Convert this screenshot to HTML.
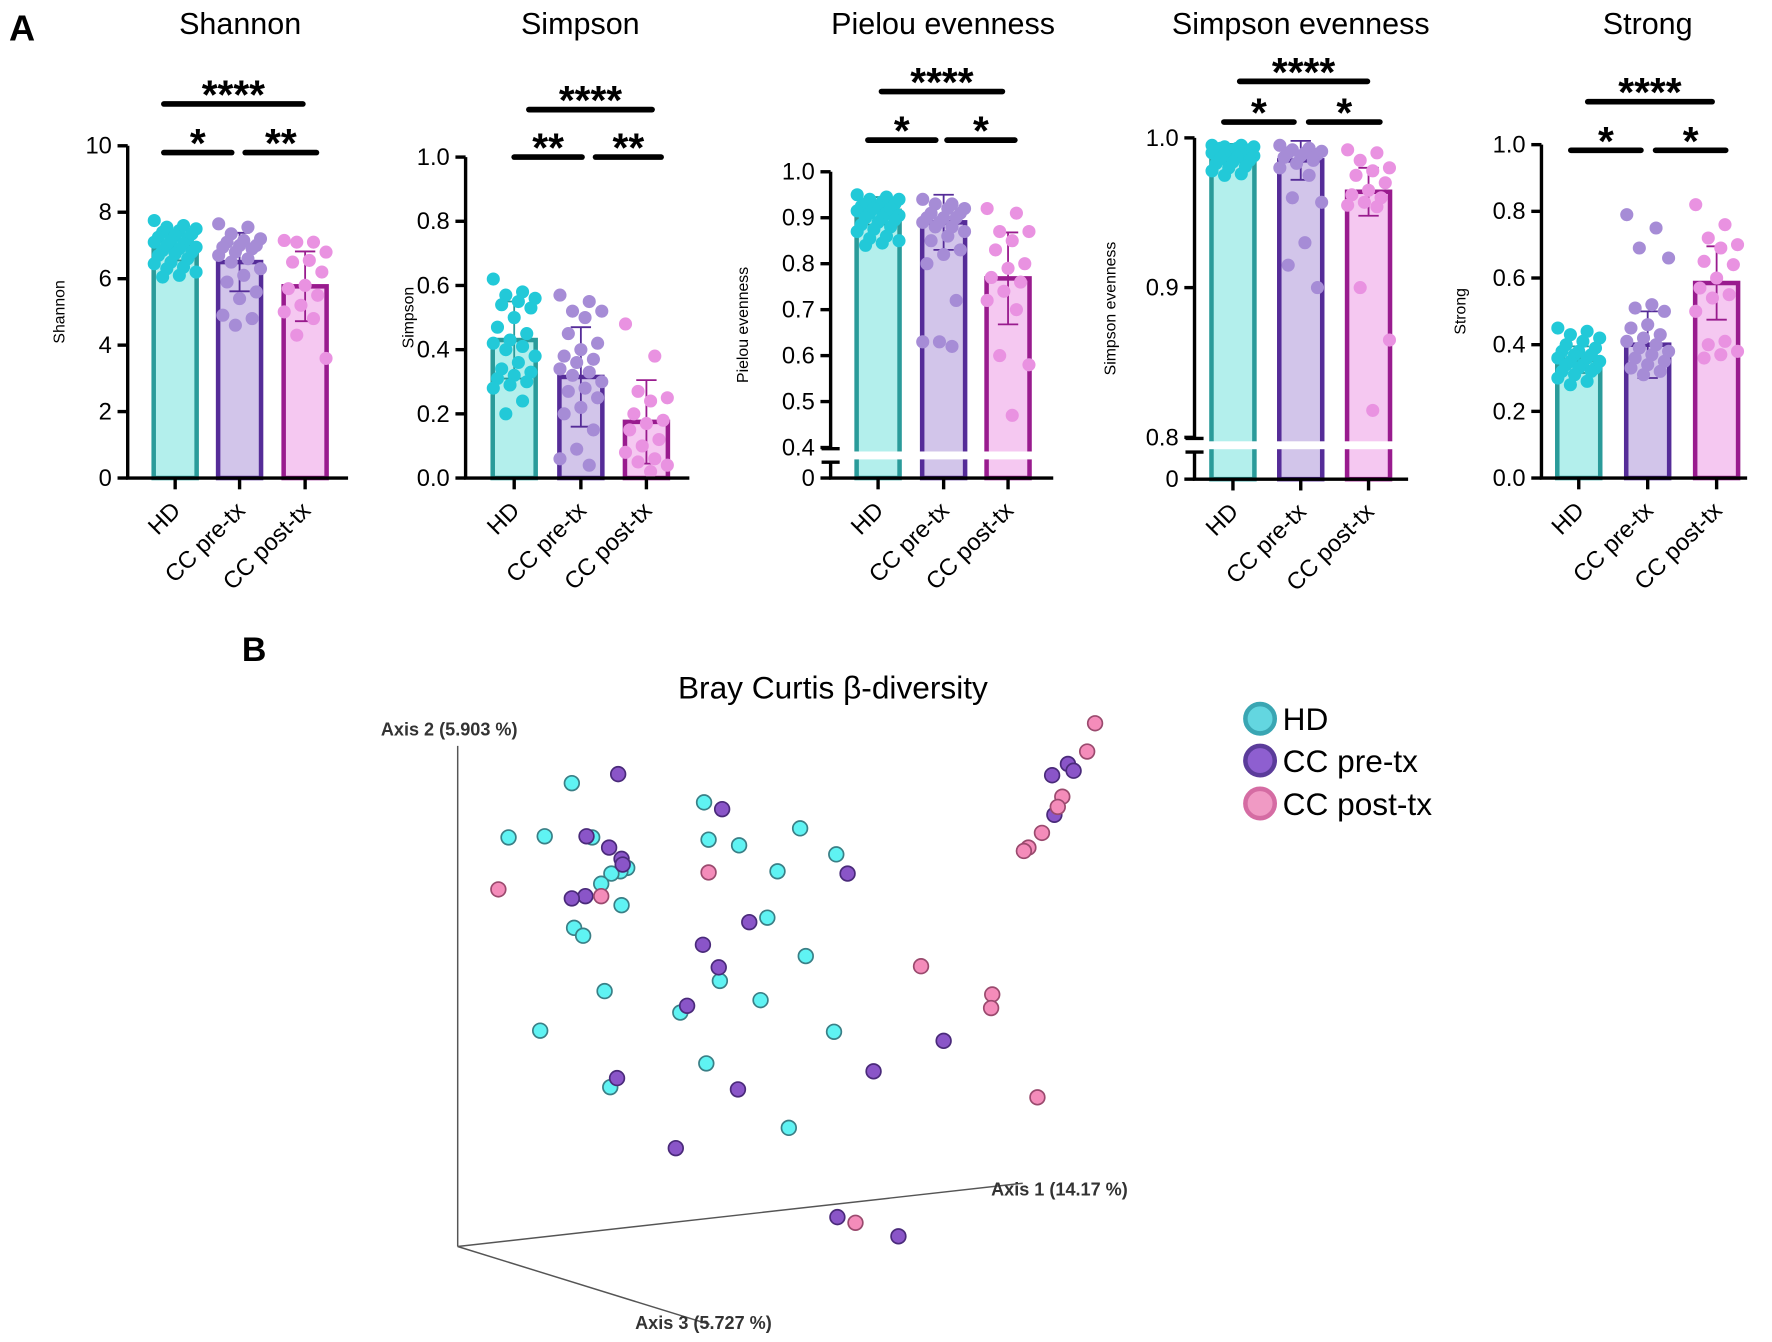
<!DOCTYPE html>
<html><head><meta charset="utf-8"><style>
html,body{margin:0;padding:0;background:#fff;}
svg{display:block;font-family:"Liberation Sans",Arial,sans-serif;}
</style></head><body>
<svg id="fig" width="1772" height="1342" viewBox="0 0 1568 1187.5" xmlns="http://www.w3.org/2000/svg">
<text x="8" y="36" font-size="32" font-weight="bold">A</text>
<text x="214" y="585" font-size="30" font-weight="bold">B</text>
<g id="panels"></g>
<g id="pcoa">
<text x="737" y="618" font-size="28" text-anchor="middle">Bray Curtis β-diversity</text>
<line x1="405" y1="1103" x2="405" y2="660" stroke="#555" stroke-width="1.3"/>
<line x1="405" y1="1103" x2="905" y2="1047" stroke="#555" stroke-width="1.3"/>
<line x1="405" y1="1103" x2="628" y2="1172" stroke="#555" stroke-width="1.3"/>
<text x="337" y="651" font-size="16" font-weight="bold" fill="#333">Axis 2 (5.903 %)</text>
<text x="877" y="1058" font-size="16" font-weight="bold" fill="#333">Axis 1 (14.17 %)</text>
<text x="562" y="1176" font-size="16" font-weight="bold" fill="#333">Axis 3 (5.727 %)</text>
<g>
<circle cx="1115" cy="636" r="13" fill="#63d6e0" stroke="#3aa6b3" stroke-width="4"/>
<text x="1135" y="646" font-size="28">HD</text>
<circle cx="1115" cy="673" r="13" fill="#8e5fd0" stroke="#5b3c9a" stroke-width="4"/>
<text x="1135" y="683" font-size="28">CC pre-tx</text>
<circle cx="1115" cy="711" r="13" fill="#f09ac4" stroke="#d56ca3" stroke-width="4"/>
<text x="1135" y="721" font-size="28">CC post-tx</text>
</g>
</g>
</svg>
<script>
const groups = ["HD","CC pre-tx","CC post-tx"];
const shannonHD = [7.75,7.6,7.55,7.5,7.45,7.4,7.35,7.3,7.25,7.2,7.15,7.1,7.05,7.0,6.95,6.9,6.85,6.8,6.75,6.7,6.6,6.5,6.45,6.35,6.3,6.2,6.1,6.05];
const shannonPre = [7.65,7.55,7.35,7.2,7.15,7.1,7.0,7.0,6.95,6.9,6.8,6.7,6.6,6.5,6.3,6.1,5.9,5.6,5.4,4.9,4.8,4.6];
const shannonPost = [7.15,7.1,7.1,6.8,6.55,6.5,6.2,5.8,5.7,5.5,5.2,5.0,4.8,4.3,3.6];
const shannonMean = [6.95,6.5,5.77];
const shannonSD = [0.4,0.88,1.05];
const simpsonHD = [0.62,0.58,0.57,0.56,0.55,0.54,0.53,0.5,0.47,0.45,0.43,0.42,0.41,0.4,0.38,0.36,0.34,0.33,0.32,0.31,0.3,0.29,0.28,0.24,0.2];
const simpsonPre = [0.57,0.55,0.52,0.52,0.5,0.45,0.42,0.4,0.38,0.37,0.36,0.34,0.33,0.32,0.3,0.28,0.27,0.25,0.22,0.2,0.15,0.09,0.06,0.04];
const simpsonPost = [0.48,0.38,0.27,0.25,0.24,0.2,0.18,0.17,0.15,0.12,0.1,0.08,0.06,0.05,0.04,0.02];
const simpsonMean = [0.43,0.315,0.175];
const simpsonSD = [0.12,0.155,0.13];
const pielouHD = [0.95,0.945,0.94,0.94,0.935,0.93,0.93,0.925,0.925,0.92,0.92,0.915,0.91,0.91,0.905,0.9,0.9,0.895,0.89,0.885,0.88,0.875,0.87,0.86,0.855,0.85,0.845,0.84];
const pielouPre = [0.94,0.93,0.93,0.92,0.92,0.91,0.91,0.9,0.9,0.9,0.89,0.89,0.88,0.88,0.87,0.86,0.85,0.83,0.82,0.8,0.72,0.63,0.63,0.62];
const pielouPost = [0.92,0.91,0.87,0.87,0.85,0.83,0.8,0.79,0.77,0.76,0.74,0.72,0.7,0.6,0.58,0.47];
const pielouMean = [0.915,0.89,0.768];
const pielouSD = [0.03,0.06,0.1];
const simpEHD = [0.995,0.995,0.994,0.994,0.993,0.993,0.992,0.992,0.991,0.991,0.99,0.99,0.989,0.989,0.988,0.987,0.986,0.985,0.984,0.983,0.981,0.98,0.978,0.976,0.975];
const simpEPre = [0.995,0.993,0.992,0.991,0.99,0.99,0.989,0.988,0.987,0.985,0.983,0.98,0.975,0.96,0.957,0.93,0.915,0.9];
const simpEPost = [0.992,0.99,0.985,0.98,0.978,0.975,0.97,0.965,0.962,0.96,0.957,0.955,0.954,0.9,0.865,0.818];
const simpEMean = [0.99,0.985,0.964];
const simpESD = [0.006,0.013,0.016];
const strongHD = [0.45,0.44,0.43,0.42,0.41,0.4,0.39,0.38,0.38,0.37,0.37,0.36,0.36,0.35,0.35,0.34,0.34,0.33,0.33,0.32,0.32,0.31,0.3,0.29,0.28];
const strongPre = [0.79,0.75,0.69,0.66,0.52,0.51,0.5,0.46,0.45,0.43,0.42,0.41,0.4,0.39,0.38,0.37,0.36,0.35,0.34,0.33,0.32,0.31];
const strongPost = [0.82,0.76,0.72,0.7,0.69,0.65,0.64,0.6,0.57,0.55,0.54,0.5,0.41,0.4,0.38,0.37,0.36];
const strongMean = [0.355,0.40,0.585];
const strongSD = [0.04,0.1,0.11];

const pcoaHDx = [506,450,482,524,623,627,654,708,740,688,555,549,541,532,550,508,516,679,713,637,535,673,602,478,738,625,540,698];
const pcoaHDy = [693,741,740,741,710,743,748,733,756,771,768,771,773,782,801,821,828,812,846,868,877,885,896,912,913,941,962,998];
const pcoaPrex = [547,639,519,539,550,551,750,518,506,663,622,636,608,835,773,546,653,598,931,945,950,933,741,795];
const pcoaPrey = [685,716,740,750,760,765,773,793,795,816,836,856,890,921,948,954,964,1016,686,676,682,721,1077,1094];
const pcoaPostx = [969,962,940,936,922,910,906,441,627,532,815,878,877,918,757];
const pcoaPosty = [640,665,705,714,737,750,753,787,772,793,855,880,892,971,1082];

const NS="http://www.w3.org/2000/svg";
function mk(tag,attrs,parent,text){const e=document.createElementNS(NS,tag);for(const k in attrs)e.setAttribute(k,attrs[k]);if(text!==undefined)e.textContent=text;parent.appendChild(e);return e;}
const fills=["#b3efec","#d2c5ea","#f5c8f1"];
const strokes=["#2a9b9a","#552c98","#991b8e"];
const dots=["#22c9d8","#a68cd6","#e992e1"];

const panels=[
 {name:"shannon",title:"Shannon",ax:113,y0:423,min:0,max:10,top:129,ticks:[0,2,4,6,8,10],lab:v=>String(v),cx:[155,212,270],xEnd:308,data:[shannonHD,shannonPre,shannonPost],mean:shannonMean,sd:shannonSD,ylx:57,
  sig:[{y:92,x1:145,x2:268,t:"****"},{y:135,x1:145,x2:205,t:"*"},{y:135,x1:217,x2:280,t:"**"}]},
 {name:"simpson",title:"Simpson",ax:412,y0:423,min:0,max:1,top:139,ticks:[0,0.2,0.4,0.6,0.8,1.0],lab:v=>v.toFixed(1),cx:[455,514,572],xEnd:610,data:[simpsonHD,simpsonPre,simpsonPost],mean:simpsonMean,sd:simpsonSD,ylx:366,
  sig:[{y:97,x1:468,x2:577,t:"****"},{y:139,x1:455,x2:515,t:"**"},{y:139,x1:527,x2:585,t:"**"}]},
 {name:"pielou",title:"Pielou evenness",ax:735,y0:423,brk:{lo:0.4,ylo:396},max:1.0,top:152,ticks:[0.4,0.5,0.6,0.7,0.8,0.9,1.0],lab:v=>v.toFixed(1),cx:[777,835,892],xEnd:932,data:[pielouHD,pielouPre,pielouPost],mean:pielouMean,sd:pielouSD,ylx:662,
  sig:[{y:81,x1:780,x2:887,t:"****"},{y:124,x1:768,x2:828,t:"*"},{y:124,x1:838,x2:898,t:"*"}]},
 {name:"simpson-evenness",title:"Simpson evenness",ax:1057,y0:424,brk:{lo:0.8,ylo:387},max:1.0,top:122,ticks:[0.8,0.9,1.0],lab:v=>v.toFixed(1),cx:[1091,1151,1211],xEnd:1246,data:[simpEHD,simpEPre,simpEPost],mean:simpEMean,sd:simpESD,ylx:987,
  sig:[{y:72,x1:1097,x2:1210,t:"****"},{y:108,x1:1083,x2:1145,t:"*"},{y:108,x1:1158,x2:1221,t:"*"}]},
 {name:"strong",title:"Strong",ax:1364,y0:423,min:0,max:1,top:128,ticks:[0,0.2,0.4,0.6,0.8,1.0],lab:v=>v.toFixed(1),cx:[1397,1458,1519],xEnd:1546,data:[strongHD,strongPre,strongPost],mean:strongMean,sd:strongSD,ylx:1297,
  sig:[{y:90,x1:1405,x2:1515,t:"****"},{y:133,x1:1390,x2:1452,t:"*"},{y:133,x1:1465,x2:1527,t:"*"}]}
];
const root=document.getElementById('panels');
panels.forEach(p=>{
 const y=v=>{
   if(p.brk){ if(v<=p.brk.lo) return p.y0-(v/p.brk.lo)*(p.y0-p.brk.ylo); return p.brk.ylo-(v-p.brk.lo)/(p.max-p.brk.lo)*(p.brk.ylo-p.top);}
   return p.y0-(v-p.min)/(p.max-p.min)*(p.y0-p.top);
 };
 const g=mk('g',{},root);
 
 
 const t=mk('text',{x:(p.cx[0]+p.cx[2])/2,y:30,'font-size':27,'text-anchor':'middle'},g,p.title);
 
 
 const yl=mk('text',{x:p.ylx,y:(p.y0+p.top)/2,'font-size':14,'text-anchor':'middle',transform:`rotate(-90 ${p.ylx} ${(p.y0+p.top)/2})`},g,p.title);
 
 
 p.mean.forEach((m,i)=>{
   const bw=42, x=p.cx[i]-bw/2;
   const r=mk('rect',{x:x+2,y:y(m),width:bw-4,height:p.y0-y(m),fill:fills[i],stroke:strokes[i],'stroke-width':4},g);
   
   
 });
 p.mean.forEach((m,i)=>{
   const x=p.cx[i], a=y(m+p.sd[i]), b=y(m-p.sd[i]);
   const e=mk('path',{d:`M${x} ${a}V${b}M${x-9} ${a}H${x+9}M${x-9} ${b}H${x+9}`,stroke:strokes[i],'stroke-width':1.6,fill:'none'},g);
   
   
 });
 p.data.forEach((arr,i)=>{
   arr.forEach((v,j)=>{
     const off=(((j*7)%11)-5)*3.7;
     const c=mk('circle',{cx:p.cx[i]+off,cy:y(v),r:5.8,fill:dots[i]},g);
     
     
   });
 });
 if(p.brk){
   const gy=p.brk.ylo+7;
   const w=mk('rect',{x:p.ax+8,y:gy-3.5,width:p.xEnd-p.ax-8,height:7,fill:'#fff'},g);
   
   
   const br=mk('path',{d:`M${p.ax-8} ${gy-6}H${p.ax+8}M${p.ax-8} ${gy+6}H${p.ax+8}`,stroke:'#000','stroke-width':3},g);
   
   
   const axl=mk('path',{d:`M${p.ax} ${p.top}V${gy-6}M${p.ax} ${gy+6}V${p.y0}`,stroke:'#000','stroke-width':3,fill:'none'},g);
   
   
   const zt=mk('path',{d:`M${p.ax-9} ${p.y0}H${p.ax}`,stroke:'#000','stroke-width':3},g);
   
   
   const zl=mk('text',{x:p.ax-14,y:p.y0+7,'font-size':21,'text-anchor':'end'},g,'0');
   
   
 } else {
   const axl=mk('path',{d:`M${p.ax} ${p.top}V${p.y0}`,stroke:'#000','stroke-width':3,fill:'none'},g);
   
   
 }
 p.ticks.forEach(v=>{
   const tk=mk('path',{d:`M${p.ax-9} ${y(v)}H${p.ax}`,stroke:'#000','stroke-width':3},g);
   
   
   const tl=mk('text',{x:p.ax-14,y:y(v)+7,'font-size':21,'text-anchor':'end'},g,p.lab(v));
   
   
 });
 const xa=mk('path',{d:`M${p.ax-1.5} ${p.y0}H${p.xEnd}`,stroke:'#000','stroke-width':3},g);
 
 
 p.cx.forEach((x,i)=>{
   const tk=mk('path',{d:`M${x} ${p.y0}V${p.y0+10}`,stroke:'#000','stroke-width':3},g);
   
   
   const lx=x+6, ly=p.y0+30;
   const tl=mk('text',{x:lx,y:ly,'font-size':21,'text-anchor':'end',transform:`rotate(-45 ${lx} ${ly})`},g,groups[i]);
   
   
 });
 p.sig.forEach(s=>{
   const l=mk('line',{x1:s.x1,y1:s.y,x2:s.x2,y2:s.y,stroke:'#000','stroke-width':5,'stroke-linecap':'round'},g);
   
   
   const st=mk('text',{x:(s.x1+s.x2)/2,y:s.y+4,'font-size':36,'font-weight':'bold','text-anchor':'middle'},g,s.t);
   
   
 });
});
const pc=document.getElementById('pcoa');
function drawPts(xs,ys,fill,stroke,nm){
 xs.forEach((x,i)=>{
   const c=mk('circle',{cx:x,cy:ys[i],r:6.5,fill:fill,stroke:stroke,'stroke-width':1.5},pc);
   
   
 });
}
drawPts(pcoaHDx,pcoaHDy,'#5ff3f3','#3a7f86','pcoa-point-hd');
drawPts(pcoaPrex,pcoaPrey,'#8a55c8','#4a2a7a','pcoa-point-pre-tx');
drawPts(pcoaPostx,pcoaPosty,'#f48cba','#9a4a6e','pcoa-point-post-tx');
</script>
</body></html>
